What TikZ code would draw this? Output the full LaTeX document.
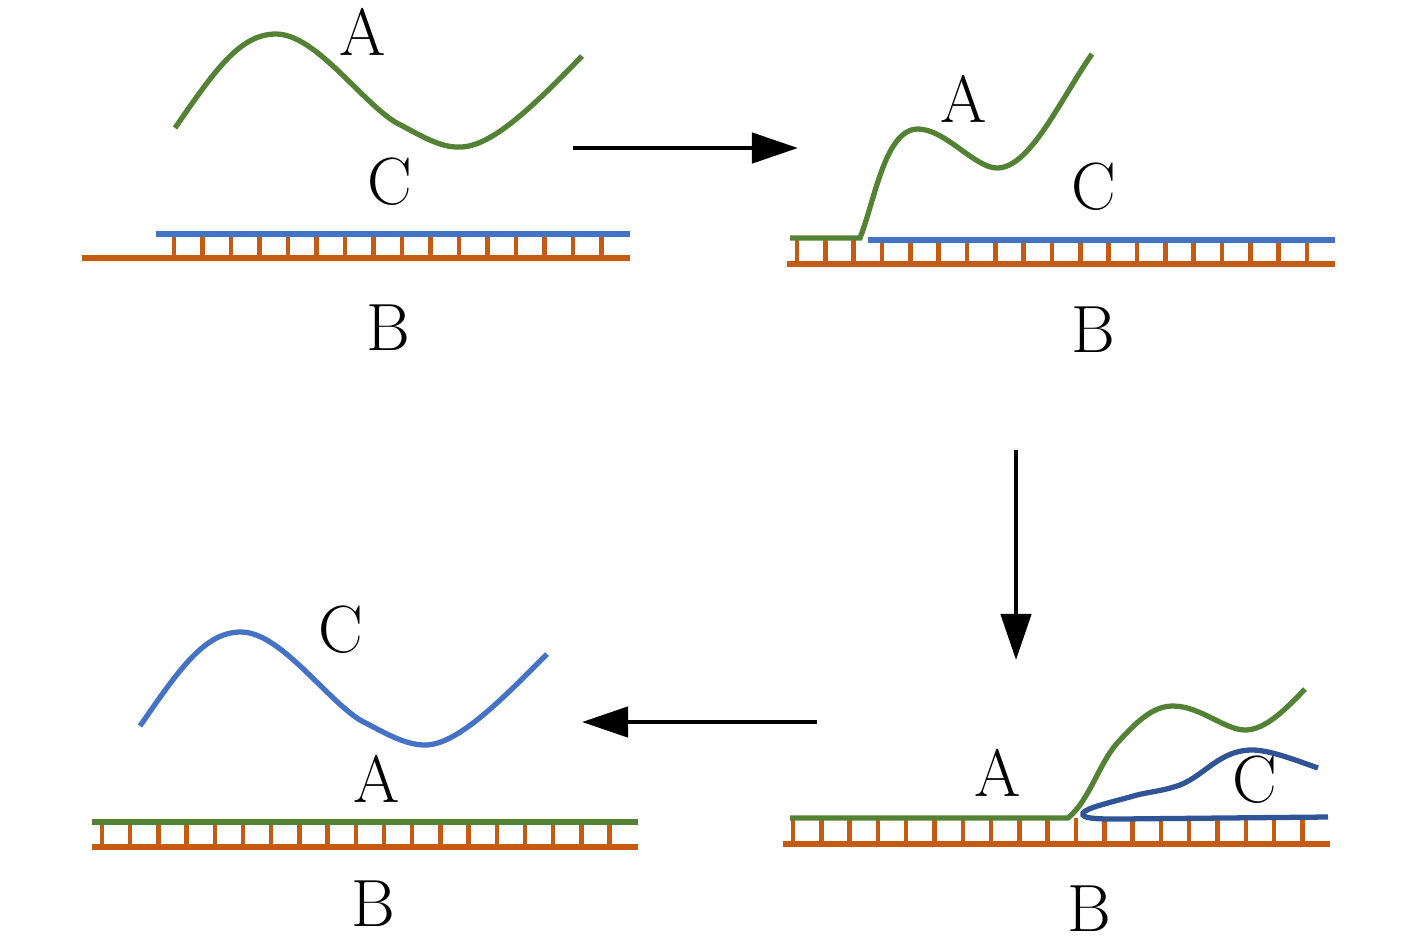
\documentclass[tikz,border=0pt]{standalone}
\usepackage{tikz}
\usetikzlibrary{arrows.meta}
\definecolor{strandA}{HTML}{548235}
\definecolor{strandB}{HTML}{C55A11}
\definecolor{strandC}{HTML}{4472C4}
\definecolor{strandCdark}{HTML}{2F5597}
\tikzstyle{arrow}  = [line width=1.3pt,-{Triangle[length=0.46cm,width=0.30cm]}]
\tikzstyle{letter} = [font=\fontsize{19}{23}\selectfont, inner sep=0pt]
\tikzstyle{strand} = [line width=1.5pt]
\tikzstyle{rung}   = [line width=1.3pt, draw=strandB]

\begin{document}
\begin{tikzpicture}[x=0.01cm, y=-0.01cm]
      \useasboundingbox (0,0) rectangle (1417,938);

      % Top left: A free, C bound to B
      \foreach \i in {0,...,15}
        \draw[rung] ({174+28.5*\i},234) -- ({174+28.5*\i},258);
      \draw[strand, strandC] (156,234) -- (630,234);
      \draw[strand, strandB] (82,258) -- (630,258);
      \draw[strand, strandA] (175,128) .. controls (215,70) and (240,34) .. (276,34)
        .. controls (315,34) and (360,100) .. (395,122)
        .. controls (420,135) and (440,148) .. (460,147)
        .. controls (490,147) and (530,110) .. (582,56);
      \node[letter] (labA1) at (363,32) {A};
      \node[letter] (labC1) at (390,182) {C};
      \node[letter] (labB1) at (388,328) {B};

      % Top right: A binds the toehold
      \foreach \i in {0,...,18}
        \draw[rung] ({797+28.33*\i},240) -- ({797+28.33*\i},264);
      \draw[strand, strandC] (868,240) -- (1335,240);
      \draw[strand, strandB] (787,264) -- (1335,264);
      \draw[strand, strandA] (790,238) -- (860,238)
        .. controls (875,200) and (885,129) .. (918,129)
        .. controls (945,129) and (975,168) .. (997,168)
        .. controls (1030,168) and (1060,100) .. (1092,54);
      \node[letter] (labA2) at (964,99) {A};
      \node[letter] (labC2) at (1094,187) {C};
      \node[letter] (labB2) at (1093,330) {B};

      % Bottom right: branch migration
      \foreach \i in {0,...,18}
        \draw[rung] ({793+28.3*\i},818) -- ({793+28.3*\i},844);
      \draw[strand, strandB] (783,844) -- (1330,844);
      \draw[strand, strandCdark] (1318,768) .. controls (1295,760) and (1270,750) .. (1252,750)
        .. controls (1220,750) and (1205,775) .. (1180,785)
        .. controls (1160,792) and (1145,792) .. (1130,797)
        .. controls (1100,805) and (1080,810) .. (1083,815)
        .. controls (1086,819) and (1100,819) .. (1120,819) -- (1328,817);
      \draw[strand, strandA] (790,818) -- (1068,818)
        .. controls (1090,800) and (1100,760) .. (1120,740)
        .. controls (1140,718) and (1155,706) .. (1173,706)
        .. controls (1200,706) and (1225,730) .. (1245,730)
        .. controls (1265,730) and (1285,710) .. (1305,689);
      \node[letter] (labA4) at (998,773) {A};
      \node[letter] (labC4) at (1255,780) {C};
      \node[letter] (labB4) at (1089,909) {B};

      % Bottom left: C released, A bound to B
      \foreach \i in {0,...,18}
        \draw[rung] ({102+28.2*\i},822) -- ({102+28.2*\i},847);
      \draw[strand, strandA] (92,822) -- (638,822);
      \draw[strand, strandB] (92,847) -- (638,847);
      \draw[strand, strandC] (140,726) .. controls (180,668) and (205,632) .. (241,632)
        .. controls (280,632) and (325,698) .. (360,720)
        .. controls (385,733) and (405,745) .. (425,745)
        .. controls (455,745) and (495,707) .. (547,654);
      \node[letter] (labC3) at (341,630) {C};
      \node[letter] (labA3) at (377,779) {A};
      \node[letter] (labB3) at (373,904) {B};

      % Arrows between steps
      \coordinate (s1) at (573,148);
      \coordinate (e1) at (798,148);
      \coordinate (s2) at (1016,450);
      \coordinate (e2) at (1016,660);
      \coordinate (s3) at (817,722);
      \coordinate (e3) at (582,722);
      \draw[arrow] (s1) -- (e1);
      \draw[arrow] (s2) -- (e2);
      \draw[arrow] (s3) -- (e3);
\end{tikzpicture}
\end{document}
